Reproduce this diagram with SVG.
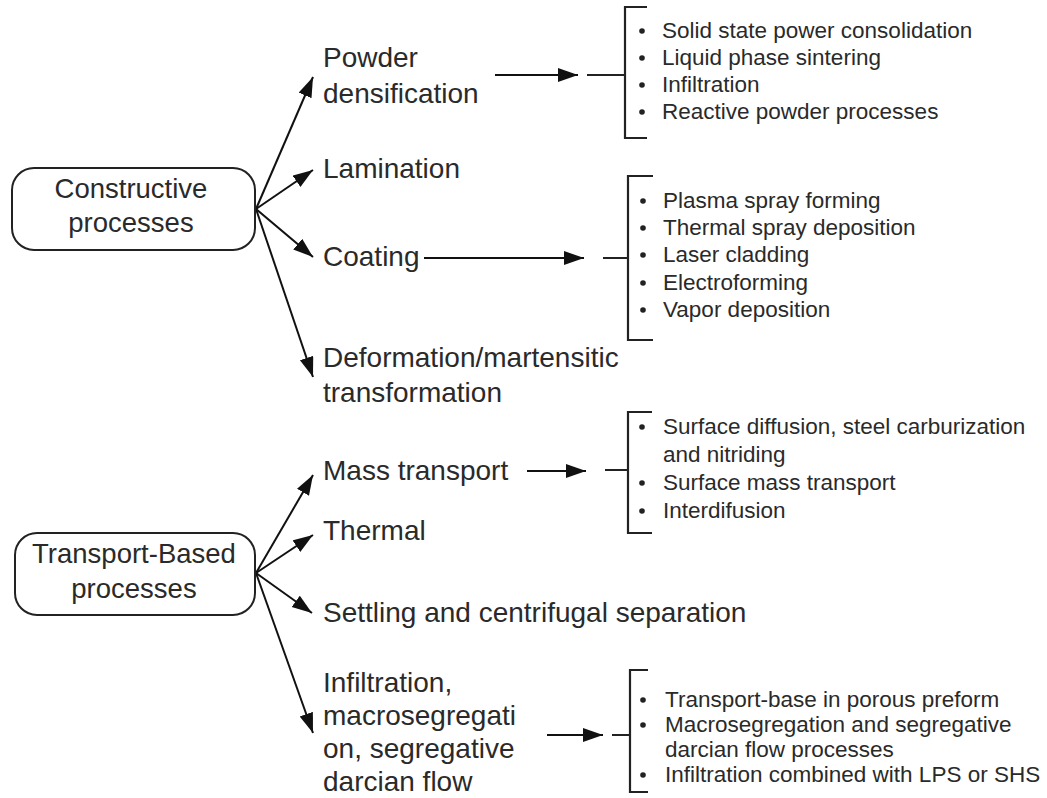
<svg xmlns="http://www.w3.org/2000/svg" width="1047" height="798" viewBox="0 0 1047 798">
<style>
  .lbl { font-family: "Liberation Sans", Arial, sans-serif; font-size: 28px; fill: #2a2a2a; }
  .box { font-family: "Liberation Sans", Arial, sans-serif; font-size: 27.5px; fill: #2a2a2a; text-anchor: middle; }
  .li { font-family: "Liberation Sans", Arial, sans-serif; font-size: 22.5px; fill: #2a2a2a; }
  .node { fill: #fff; stroke: #222; stroke-width: 2; }
  .conn { stroke: #111; stroke-width: 2; fill: none; marker-end: url(#ah); }
  .brk { stroke: #222; stroke-width: 2.2; fill: none; }
  .dot { fill: #222; }
</style>
<defs>
  <marker id="ah" markerUnits="userSpaceOnUse" markerWidth="22" markerHeight="16" refX="20" refY="7" orient="auto">
    <path d="M0,0 L20,7 L0,14 z" fill="#111"/>
  </marker>
</defs>
<rect width="1047" height="798" fill="#fff"/>

<g id="connectors">
  <line class="conn" x1="256" y1="209" x2="313" y2="77"/>
  <line class="conn" x1="256" y1="209" x2="313" y2="170"/>
  <line class="conn" x1="256" y1="209" x2="313" y2="257"/>
  <line class="conn" x1="256" y1="209" x2="313" y2="377"/>
  <line class="conn" x1="256" y1="573" x2="313" y2="475"/>
  <line class="conn" x1="256" y1="573" x2="313" y2="535"/>
  <line class="conn" x1="256" y1="573" x2="312" y2="613"/>
  <line class="conn" x1="256" y1="573" x2="313" y2="733"/>
  <line class="conn" x1="495" y1="75" x2="578" y2="75"/>
  <line class="conn" x1="424" y1="258" x2="584" y2="258"/>
  <line class="conn" x1="527" y1="471" x2="586" y2="471"/>
  <line class="conn" x1="547" y1="735" x2="603" y2="735"/>
</g>

<g id="constructive">
  <rect class="node" x="12" y="168" width="243" height="82" rx="22"/>
  <text class="box" x="131" y="198">Constructive</text>
  <text class="box" x="131" y="232">processes</text>
</g>
<g id="transport">
  <rect class="node" x="15" y="533" width="240" height="82" rx="22"/>
  <text class="box" x="134" y="563">Transport-Based</text>
  <text class="box" x="134" y="598">processes</text>
</g>

<g id="powder"><text class="lbl" x="323" y="67">Powder</text><text class="lbl" x="323" y="103">densification</text></g>
<g id="lamination"><text class="lbl" x="323" y="178">Lamination</text></g>
<g id="coating"><text class="lbl" x="323" y="266">Coating</text></g>
<g id="deformation"><text class="lbl" x="323" y="367">Deformation/martensitic</text><text class="lbl" x="323" y="402">transformation</text></g>
<g id="mass"><text class="lbl" x="323" y="480">Mass transport</text></g>
<g id="thermal"><text class="lbl" x="323" y="540">Thermal</text></g>
<g id="settling"><text class="lbl" x="323" y="622">Settling and centrifugal separation</text></g>
<g id="infiltration"><text class="lbl" x="323" y="692">Infiltration,</text><text class="lbl" x="323" y="725">macrosegregati</text><text class="lbl" x="323" y="758">on, segregative</text><text class="lbl" x="323" y="791">darcian flow</text></g>

<g id="list-powder">
  <path class="brk" d="M587,75 H625 M647,7 H625 V138 H647"/>
  <circle class="dot" cx="642" cy="31" r="2.8"/><text class="li" x="662" y="38">Solid state power consolidation</text>
  <circle class="dot" cx="642" cy="58" r="2.8"/><text class="li" x="662" y="65">Liquid phase sintering</text>
  <circle class="dot" cx="642" cy="85" r="2.8"/><text class="li" x="662" y="92">Infiltration</text>
  <circle class="dot" cx="642" cy="112" r="2.8"/><text class="li" x="662" y="119">Reactive powder processes</text>
</g>
<g id="list-coating">
  <path class="brk" d="M603,258 H628 M653,176 H628 V340 H653"/>
  <circle class="dot" cx="643" cy="201" r="2.8"/><text class="li" x="663" y="208">Plasma spray forming</text>
  <circle class="dot" cx="643" cy="228" r="2.8"/><text class="li" x="663" y="235">Thermal spray deposition</text>
  <circle class="dot" cx="643" cy="255" r="2.8"/><text class="li" x="663" y="262">Laser cladding</text>
  <circle class="dot" cx="643" cy="283" r="2.8"/><text class="li" x="663" y="290">Electroforming</text>
  <circle class="dot" cx="643" cy="310" r="2.8"/><text class="li" x="663" y="317">Vapor deposition</text>
</g>
<g id="list-mass">
  <path class="brk" d="M605,470 H628 M652,412 H628 V533 H652"/>
  <circle class="dot" cx="642" cy="427" r="2.8"/><text class="li" x="663" y="434">Surface diffusion, steel carburization</text>
  <text class="li" x="663" y="462">and nitriding</text>
  <circle class="dot" cx="642" cy="483" r="2.8"/><text class="li" x="663" y="490">Surface mass transport</text>
  <circle class="dot" cx="642" cy="511" r="2.8"/><text class="li" x="663" y="518">Interdifusion</text>
</g>
<g id="list-infiltration">
  <path class="brk" d="M612,735 H630 M648,670 H630 V792 H648"/>
  <circle class="dot" cx="643" cy="700" r="2.8"/><text class="li" x="665" y="707">Transport-base in porous preform</text>
  <circle class="dot" cx="643" cy="725" r="2.8"/><text class="li" x="665" y="732">Macrosegregation and segregative</text>
  <text class="li" x="665" y="757">darcian flow processes</text>
  <circle class="dot" cx="643" cy="775" r="2.8"/><text class="li" x="665" y="782">Infiltration combined with LPS or SHS</text>
</g>
</svg>
